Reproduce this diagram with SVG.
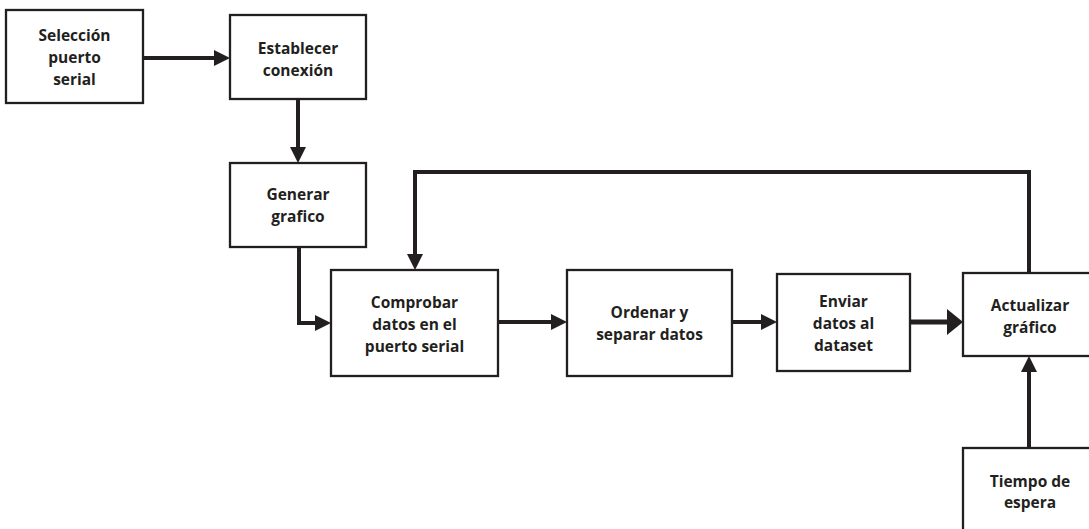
<svg xmlns="http://www.w3.org/2000/svg" width="1089" height="529" viewBox="0 0 1089 529">
<defs>
<style>
.box{fill:#fff;stroke:#231f20;stroke-width:2.3}
.t{font-family:"Open Sans","Liberation Sans",sans-serif;font-weight:700;font-size:15.5px;fill:#231f20;text-anchor:middle}
.c{fill:none;stroke:#231f20;stroke-width:4;stroke-linejoin:miter}
.cw{fill:none;stroke:#231f20;stroke-width:5}
</style>
<marker id="ah" markerUnits="userSpaceOnUse" markerWidth="16" markerHeight="16" refX="8" refY="8" orient="auto" viewBox="0 0 16 16">
<path d="M0,0 L16,8 L0,16 z" fill="#231f20"/>
</marker>
<marker id="ahb" markerUnits="userSpaceOnUse" markerWidth="16" markerHeight="26" refX="8" refY="13" orient="auto" viewBox="0 0 16 26">
<path d="M0,0 L16,13 L0,26 z" fill="#231f20"/>
</marker>
</defs>
<rect width="1089" height="529" fill="#fff"/>
<g id="connectors">
<path class="c" d="M143,58 H222" marker-end="url(#ah)"/>
<path class="c" d="M298,99 V155" marker-end="url(#ah)"/>
<path class="c" d="M299,247 V323 H323" marker-end="url(#ah)"/>
<path class="c" d="M498,322 H559" marker-end="url(#ah)"/>
<path class="c" d="M732,322 H769" marker-end="url(#ah)"/>
<path class="cw" d="M910,322 H955" marker-end="url(#ahb)"/>
<path class="c" d="M1029,273 V172 H415 V262" marker-end="url(#ah)"/>
<path class="c" d="M1029,448 V364" marker-end="url(#ah)"/>
</g>
<g id="n1"><rect class="box" x="6" y="10" width="137" height="93"/>
<text class="t" x="74.5" y="41">Selección</text><text class="t" x="74.5" y="63">puerto</text><text class="t" x="74.5" y="85">serial</text></g>
<g id="n2"><rect class="box" x="230" y="15" width="136" height="84"/>
<text class="t" x="298" y="54">Establecer</text><text class="t" x="298" y="76">conexión</text></g>
<g id="n3"><rect class="box" x="230" y="163" width="136" height="84"/>
<text class="t" x="298" y="200">Generar</text><text class="t" x="298" y="222">grafico</text></g>
<g id="n4"><rect class="box" x="331" y="270" width="167" height="106"/>
<text class="t" x="414.5" y="308">Comprobar</text><text class="t" x="414.5" y="330">datos en el</text><text class="t" x="414.5" y="352">puerto serial</text></g>
<g id="n5"><rect class="box" x="567" y="270" width="165" height="106"/>
<text class="t" x="649.5" y="318">Ordenar y</text><text class="t" x="649.5" y="340">separar datos</text></g>
<g id="n6"><rect class="box" x="777" y="274" width="133" height="97"/>
<text class="t" x="843.5" y="307">Enviar</text><text class="t" x="843.5" y="329">datos al</text><text class="t" x="843.5" y="351">dataset</text></g>
<g id="n7"><rect class="box" x="963" y="273" width="134" height="83"/>
<text class="t" x="1030" y="311">Actualizar</text><text class="t" x="1030" y="333">gráfico</text></g>
<g id="n8"><rect class="box" x="963" y="448" width="134" height="90"/>
<text class="t" x="1030" y="487">Tiempo de</text><text class="t" x="1030" y="508">espera</text></g>
</svg>
